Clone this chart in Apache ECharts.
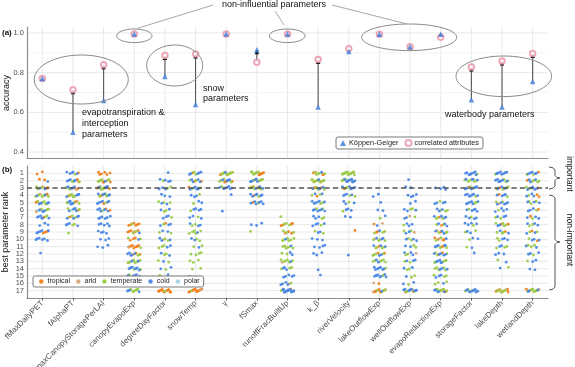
<!DOCTYPE html>
<html><head><meta charset="utf-8">
<script src="https://cdn.jsdelivr.net/npm/echarts@6/dist/echarts.min.js"></script>
<style>html,body{margin:0;padding:0;background:#fff}#c{width:575px;height:367px}</style>
</head><body><div id="c"></div>
<script>
// ---------- data ----------
const categories = ['fMaxDailyPET','fAlphaPT','maxCanopyStoragePerLAI','canopyEvapoExp','degreeDayFactor','snowTemp','γ','fSmax','runoffFracBuiltUp','k_β','riverVelocity','lakeOutflowExp','wellOutflowExp','evapoReductionExp','storageFactor','lakeDepth','wetlandDepth'];
const accKoppen = [0.77, 0.50, 0.66, 0.995, 0.78, 0.64, 0.995, 0.916, 0.995, 0.627, 0.906, 0.993, 0.93, 0.993, 0.664, 0.627, 0.755];
const accCorrelated = [0.77, 0.714, 0.84, 0.995, 0.886, 0.894, 0.995, 0.853, 0.995, 0.866, 0.92, 0.993, 0.93, 0.978, 0.829, 0.859, 0.896];
const accTicks = [0.4, 0.6, 0.8, 1.0];
const accMinor = [0.5, 0.7, 0.9];
const rankTicks = [1,2,3,4,5,6,7,8,9,10,11,12,13,14,15,16,17];
const importantCut = [3];
const climates = ['tropical','arid','temperate','cold','polar'];
const climateCodes = ['t','a','e','c','p'];
// best-rank points per parameter: one string per rank 1..17, one letter per catchment (climate code)
const pts_fMaxDailyPET = ['tt','ttc','teecctae','eeeteccaeeet','eectecceteac','tecceetccecp','ccecctcec','ccc','tcctcctc','cccccc','','c','','','','',''];
const pts_fAlphaPT = ['cccectc','ecctecccte','ctcecetcca','ecetcecetcee','cetceecacetc','cetcecpeec','cecetcce','ceccec','e','','','','','','','',''];
const pts_maxCanopyStoragePerLAI = ['tttttt','eeteaetceete','etceteccetce','etcecetcceec','cccecctc','tcccectc','cccccc','ccccc','cccc','ccc','ccc','','','','','',''];
const pts_canopyEvapoExp = ['','','','','','','','tttttte','tetetctt','ettcte','tttettttat','ctccetctce','eeeceeecee','cccecccecc','ccccecce','ccetccec','ceeceecece'];
const pts_degreeDayFactor = ['c','cccce','cecec','ccc','eecce','ecce','ccec','ctcce','ecce','ccecea','eecec','ecce','ece','cec','ec','ee','tttttatttttttet'];
const pts_snowTemp = ['cctcecce','ccteccte','ctceeccc','ccec','cec','ccecc','cecc','ececc','eeceee','ecec','cee','eeee','eee','ee','ec','e','tttttattttttet'];
const pts_gamma = ['eeteecteeaeeet','tecteccetacetc','cccceccc','c','','c','','','','','','','','','','',''];
const pts_fSmax = ['tetaeteteeteet','ecceeeccecceee','etteetcecteece','ccccetcc','ccetcccc','','','ccc','e','','','','','','','',''];
const pts_runoffFracBuiltUp = ['','','','','','','e','tteteet','tetete','eeeceee','eeeeece','ceec','eeeeeace','ceceec','ccccc','ccecca','ccccccceccccatcccccc'];
const pts_kBeta = ['ttetceeeet','eeteeceeteetee','ctcecteect','cteec','ccceccec','ccecccec','cecce','ccecc','ceec','ccc','cccc','ccc','','c','c','',''];
const pts_riverVelocity = ['eeeeeeeeeeteeeee','ccececcecccecece','cctcecce','ccceec','ccec','cecc','cc','','t','','','c','','','','',''];
const pts_lakeOutflowExp = ['','','','cc','c','cc','ce','tac','teceet','eecceeac','ceetceec','etecetce','eeeeceec','cccecccc','ccccecccce','ta','ttetteeattetacte'];
const pts_wellOutflowExp = ['','c','cc','cccc','cc','cecce','ceac','cecc','ecace','cecec','ecce','cceace','cceec','ecce','ece','cec','ceteccaeecctecceca'];
const pts_evapoReductionExp = ['','','cccc','','ccecc','ceccee','cectceec','ecctec','etcceeca','tttceeta','tcectcetcc','ccteccecte','cceceecece','eecceece','eccece','ecee','ettcecetatececteec'];
const pts_storageFactor = ['cccccecccc','eceeeceecc','ccecetccec','cccceccc','ccecccce','cecccc','ceccc','ceccc','cece','ecc','ce','c','','','','','cecceceaeccccecc'];
const pts_lakeDepth = ['ccceccccce','cecceccecc','cecteece','cteccc','ccecacec','ccecc','cceec','ctecetee','eetcce','cecce','eceec','ccc','ec','ce','','','tteettetaeteetet'];
const pts_wetlandDepth = ['cecctecc','eceetcce','ccecetcc','tcetcc','ceecce','ctcce','ecctc','cecec','etcce','ccetc','ecece','ccec','cec','cc','','','ceeteeceettaecee'];
const rankPoints = [pts_fMaxDailyPET, pts_fAlphaPT, pts_maxCanopyStoragePerLAI, pts_canopyEvapoExp, pts_degreeDayFactor, pts_snowTemp, pts_gamma, pts_fSmax, pts_runoffFracBuiltUp, pts_kBeta, pts_riverVelocity, pts_lakeOutflowExp, pts_wellOutflowExp, pts_evapoReductionExp, pts_storageFactor, pts_lakeDepth, pts_wetlandDepth];

// ---------- styles ----------
const FONT = '"Liberation Sans", Arial, sans-serif';
const climateColors = ['#f27f1b', '#d8a67a', '#9bcb48', '#4a87e6', '#a2d3e4'];
const GRID_MAJ = '#e9e9e9', GRID_MIN = '#f4f4f4', AXIS = '#8c8c8c';

// jitter like geom_jitter (deterministic, layout only)
const frac = v => v - Math.floor(v);
const climateData = climates.map(() => []);
rankPoints.forEach((ranks, ci) => {
  ranks.forEach((s, ri) => {
    for (let k = 0; k < s.length; k++) {
      const cl = climateCodes.indexOf(s[k]);
      const xo = (frac(0.5 + k * 0.618034 + ci * 0.31 + ri * 0.17) - 0.5) * 0.44;
      const yo = (frac(k * 0.7548777 + ci * 0.57 + ri * 0.29) - 0.5) * 0.42;
      climateData[cl].push([ci + xo, rankTicks[ri] + yo]);
    }
  });
});

const arrowData = [];
categories.forEach((c, i) => {
  const a = accKoppen[i], b = accCorrelated[i];
  if (Math.abs(a - b) > 0.02) arrowData.push([i, Math.min(a, b), Math.max(a, b)]);
});

function vLines(xi, yi, yMid) {
  return {type:'custom', xAxisIndex:xi, yAxisIndex:yi, silent:true, z:0, clip:false,
    data: categories.map((c, i) => [i, yMid]),
    renderItem: (params, api) => {
      const cs = params.coordSys;
      const x = api.coord([api.value(0), api.value(1)])[0];
      return {type:'line', shape:{x1:x, y1:cs.y, x2:x, y2:cs.y + cs.height}, style:{stroke:GRID_MAJ, lineWidth:1}};
    }};
}
function hLines(xi, yi, vals, color) {
  return {type:'custom', xAxisIndex:xi, yAxisIndex:yi, silent:true, z:0, clip:false,
    data: vals.map(v => [8, v]),
    renderItem: (params, api) => {
      const cs = params.coordSys;
      const y = api.coord([api.value(0), api.value(1)])[1];
      return {type:'line', shape:{x1:cs.x, y1:y, x2:cs.x + cs.width, y2:y}, style:{stroke:color, lineWidth:1}};
    }};
}

const series = [
  vLines(0, 0, 0.7),
  hLines(0, 0, accMinor, GRID_MIN),
  hLines(0, 0, accTicks, GRID_MAJ),
  vLines(2, 1, 9),
  hLines(2, 1, rankTicks, GRID_MAJ),
  {type:'custom', name:'arrows', xAxisIndex:0, yAxisIndex:0, silent:true, z:2, data: arrowData,
    renderItem: (params, api) => {
      const p1 = api.coord([api.value(0), api.value(1)]);
      const p2 = api.coord([api.value(0), api.value(2)]);
      const L = 4.5, W = 2.3;
      return {type:'group', children:[
        {type:'line', shape:{x1:p1[0], y1:p1[1], x2:p2[0], y2:p2[1] + L * 0.8}, style:{stroke:'#555', lineWidth:1.1}},
        {type:'polygon', shape:{points:[[p2[0], p2[1]], [p2[0] - W, p2[1] + L], [p2[0] + W, p2[1] + L]]}, style:{fill:'#111'}}
      ]};
    }},
  {type:'scatter', name:'Köppen-Geiger', xAxisIndex:0, yAxisIndex:0, symbol:'triangle', symbolSize:5.5, z:4,
    itemStyle:{color:'#3b78d8'}, data: accKoppen.map((v, i) => [i, v])},
  {type:'scatter', name:'correlated attributes', xAxisIndex:0, yAxisIndex:0, symbol:'emptyCircle', symbolSize:5.5, z:3,
    itemStyle:{color:'#e894a6', borderColor:'#e894a6', borderWidth:1}, data: accCorrelated.map((v, i) => [i, v])},
];
climates.forEach((c, k) => {
  series.push({type:'scatter', name:c, xAxisIndex:2, yAxisIndex:1, symbol:'circle', symbolSize:2.8, z:3,
    itemStyle:{color:climateColors[k], opacity:0.95}, data: climateData[k]});
});
series.push({type:'custom', name:'cut', xAxisIndex:2, yAxisIndex:1, silent:true, z:6, clip:false,
  data: importantCut.map(v => [8, v]),
  renderItem: (params, api) => {
    const cs = params.coordSys;
    const y = api.coord([api.value(0), api.value(1)])[1];
    return {type:'line', shape:{x1:cs.x, y1:y, x2:cs.x + cs.width, y2:y}, style:{stroke:'#555', lineWidth:1.3, lineDash:[5, 3.5]}};
  }});

const gridA = {left:27, top:27, width:521, height:131, containLabel:false, outerBoundsMode:'none'};
const gridB = {left:27, top:166, width:521, height:132, containLabel:false, outerBoundsMode:'none'};

function brace(x, y1, y2, ym) {
  const w = 11;
  return {type:'polyline', shape:{points:[[x, y1], [x + 4, y1 + 0.8], [x + 6, y1 + 3], [x + 6, ym - 2.5], [x + 8, ym - 0.5], [x + w, ym], [x + 8, ym + 0.5], [x + 6, ym + 2.5], [x + 6, y2 - 3], [x + 4, y2 - 0.8], [x, y2]]},
    style:{stroke:'#555', lineWidth:1, fill:null}};
}
function ell(cx, cy, rx, ry) {
  return {type:'ellipse', shape:{cx, cy, rx, ry}, style:{stroke:'#8a8a8a', lineWidth:1, fill:null}, z:10};
}
function txt(x, y, text, opts) {
  return Object.assign({type:'text', x, y, z:10, style:Object.assign({text, fill:'#111', font:'9px ' + FONT, align:'left', verticalAlign:'middle'}, (opts && opts.style) || {})}, (opts && opts.el) || {});
}
function seg(x1, y1, x2, y2) {
  return {type:'line', shape:{x1, y1, x2, y2}, style:{stroke:'#a8a8a8', lineWidth:1}, z:10};
}

const option = {
  animation:false,
  backgroundColor:'#fff',
  textStyle:{fontFamily:FONT},
  grid:[gridA, gridB],
  xAxis:[
    {type:'value', gridIndex:0, min:-0.5, max:16.5, axisLine:{show:true, onZero:false, lineStyle:{color:AXIS, width:1.2}}, axisTick:{show:false}, axisLabel:{show:false}, splitLine:{show:false}},
    {type:'category', gridIndex:1, data:categories, boundaryGap:true,
      axisLine:{show:true, onZero:false, lineStyle:{color:AXIS, width:1.2}},
      axisTick:{show:true, alignWithLabel:true, length:2.5, lineStyle:{color:'#555'}},
      axisLabel:{rotate:45, fontSize:8, color:'#4d4d4d', margin:4, interval:0, fontFamily:FONT, hideOverlap:false},
      splitLine:{show:false}},
    {type:'value', gridIndex:1, min:-0.5, max:16.5, show:false, axisLine:{onZero:false}, splitLine:{show:false}}
  ],
  yAxis:[
    {type:'value', gridIndex:0, min:0.37, max:1.03, interval:0.01,
      axisLine:{show:true, onZero:false, lineStyle:{color:AXIS, width:1.2}}, axisTick:{show:false}, splitLine:{show:false},
      axisLabel:{fontSize:7.5, color:'#4d4d4d', margin:3, fontFamily:FONT, formatter: v => {
        const r = Math.round(v * 100); return accTicks.some(t => Math.round(t * 100) === r) ? (r / 100).toFixed(1) : '';
      }}},
    {type:'value', gridIndex:1, min:0, max:18, interval:1, inverse:true,
      axisLine:{show:true, onZero:false, lineStyle:{color:AXIS, width:1.2}}, axisTick:{show:false}, splitLine:{show:false},
      axisLabel:{fontSize:7.5, color:'#4d4d4d', margin:3, fontFamily:FONT, formatter: v => rankTicks.includes(Math.round(v)) ? String(Math.round(v)) : ''}}
  ],
  legend:[
    {data:['Köppen-Geiger', 'correlated attributes'], left:336, top:137, orient:'horizontal',
      backgroundColor:'#fff', borderColor:'#7a7a7a', borderWidth:1, borderRadius:2, padding:[2, 4, 2, 4],
      itemWidth:6, itemHeight:6, itemGap:6, textStyle:{fontSize:7.3, color:'#222', fontFamily:FONT, padding:[0, 0, 0, -2]}, selectedMode:false, z:20},
    {data:climates, left:33, top:276, orient:'horizontal',
      backgroundColor:'#fff', borderColor:'#7a7a7a', borderWidth:1, borderRadius:2, padding:[2, 4, 2, 6],
      itemWidth:4.5, itemHeight:4.5, itemGap:6, textStyle:{fontSize:7, color:'#222', fontFamily:FONT, padding:[0, 0, 0, -1]}, selectedMode:false, z:20}
  ],
  series,
  graphic:[
    txt(2, 33, '(a)', {style:{font:'bold 8px ' + FONT}}),
    txt(2, 170, '(b)', {style:{font:'bold 8px ' + FONT}}),
    txt(7, 93, 'accuracy', {style:{align:'center'}, el:{rotation:Math.PI / 2}}),
    txt(6, 232, 'best parameter rank', {style:{align:'center'}, el:{rotation:Math.PI / 2}}),
    ell(81.3, 79.5, 47, 24.5),
    ell(134.3, 35.8, 17.7, 6.8),
    ell(174.7, 65.5, 28, 20.5),
    ell(287.2, 35.8, 17.8, 6.8),
    ell(409.2, 37.3, 47.5, 13.3),
    ell(503.8, 76.3, 47.8, 20.3),
    seg(213, 5, 137, 28.5),
    seg(275, 11, 284, 25),
    seg(332, 5, 407, 24),
    txt(222, 5, 'non-influential parameters'),
    txt(82, 113, 'evapotranspiration &'),
    txt(82, 124, 'interception'),
    txt(82, 134.7, 'parameters'),
    txt(203, 88.3, 'snow'),
    txt(203, 98.5, 'parameters'),
    txt(445, 115, 'waterbody parameters'),
    brace(549, 167, 189, 178),
    brace(549, 195, 290, 242),
    txt(569, 174, 'important', {style:{align:'center', font:'8.5px ' + FONT}, el:{rotation:-Math.PI / 2}}),
    txt(569, 240, 'non-important', {style:{align:'center', font:'8.5px ' + FONT}, el:{rotation:-Math.PI / 2}})
  ]
};
const chart = echarts.init(document.getElementById('c'), null, {renderer:'canvas'});
chart.setOption(option);
</script></body></html>
